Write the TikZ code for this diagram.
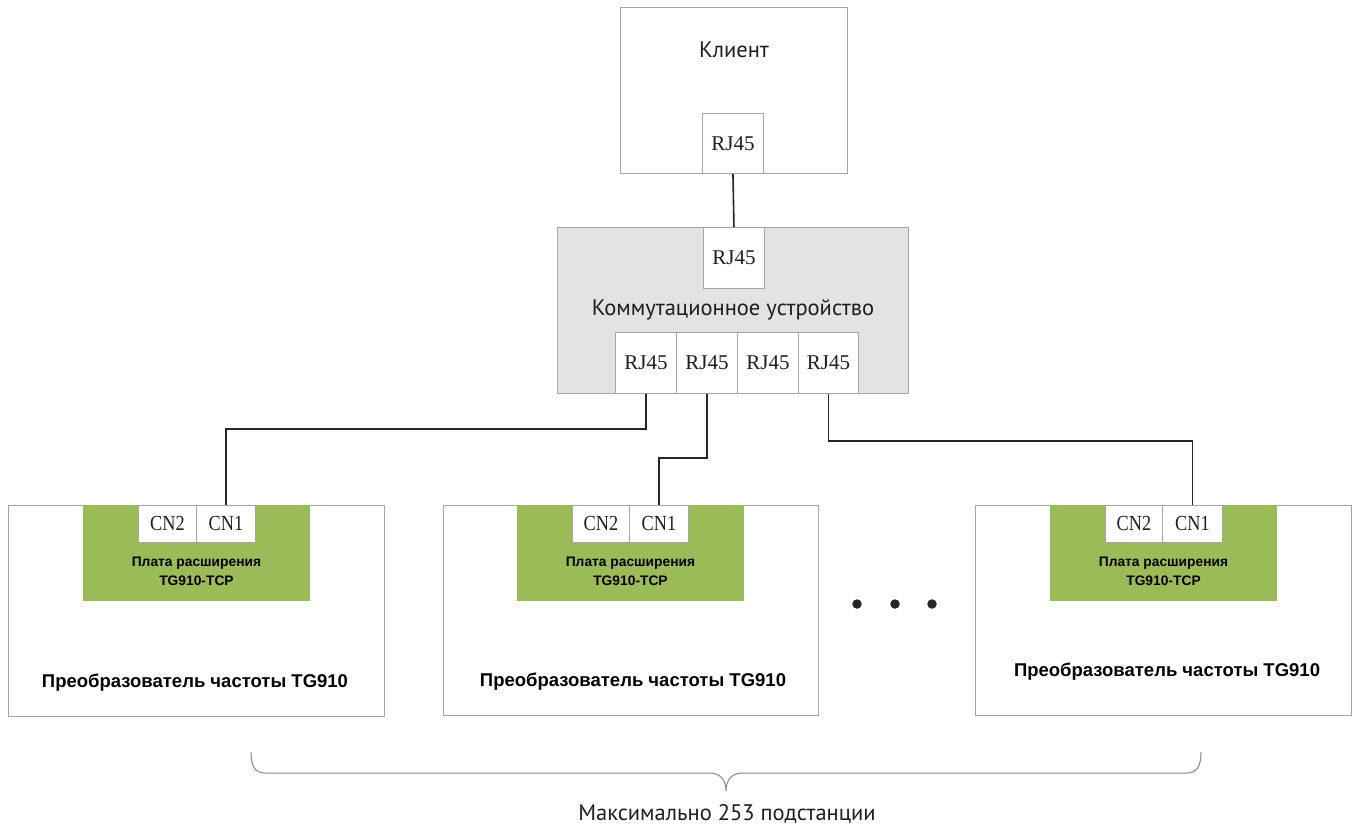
\documentclass[tikz,border=0pt]{standalone}
\usepackage{fontspec}
\setmainfont{PT Sans}
\newfontfamily\serifport{Liberation Serif}
\newfontfamily\boldsans{Liberation Sans}
\definecolor{boxline}{HTML}{A6A6A6}
\definecolor{swfill}{HTML}{E3E3E3}
\definecolor{board}{HTML}{9BBB59}
\definecolor{wire}{HTML}{262626}
\definecolor{txt}{HTML}{1E1E1E}
\tikzset{
  frame/.style={draw=boxline, line width=0.9pt, fill=white, anchor=north west, inner sep=0pt},
  port/.style={draw=boxline, line width=0.9pt, fill=white, anchor=north west, inner sep=0pt,
    font=\serifport\fontsize{21}{21}\selectfont, text=txt},
  cnport/.style={port, font=\serifport\fontsize{21.5}{21}\selectfont},
  boardbox/.style={fill=board, anchor=north west, inner sep=0pt},
  wirel/.style={draw=wire, line width=1.6pt},
  lbl/.style={font=\fontsize{22.5}{24}\selectfont, text=txt},
  invlbl/.style={font=\boldsans\bfseries\fontsize{18.5}{20}\selectfont, text=black},
  boardlbl/.style={font=\boldsans\bfseries\fontsize{13.8}{19}\selectfont, text=black, align=center},
  dotn/.style={circle, fill=wire, inner sep=0pt, minimum size=9.5pt},
}
\newcommand{\cnt}[1]{\scalebox{0.85}[1]{#1}}
\begin{document}
\begin{tikzpicture}[x=1pt,y=-1pt]
\useasboundingbox (0,0) rectangle (1354,827);
% client
\node[frame, minimum width=227pt, minimum height=166pt] (client) at (620,7) {};
\node[lbl] (clienttxt) at (734,50) {Клиент};
\node[port, minimum width=61pt, minimum height=60pt] (crj) at (702,113) {RJ45};
% switch
\node[frame, fill=swfill, minimum width=351pt, minimum height=166pt] (switch) at (557,227) {};
\node[port, minimum width=61pt, minimum height=61pt] (srj) at (703,227) {RJ45};
\node[lbl] (switchtxt) at (733,310) {Коммутационное устройство};
\node[port, minimum width=61pt, minimum height=61pt] (p1) at (615,332) {RJ45};
\node[port, minimum width=61pt, minimum height=61pt] (p2) at (676,332) {RJ45};
\node[port, minimum width=61pt, minimum height=61pt] (p3) at (737,332) {RJ45};
\node[port, minimum width=60pt, minimum height=61pt] (p4) at (798,332) {RJ45};
% inverters
\node[frame, minimum width=376pt, minimum height=211pt] (invA) at (8,505) {};
\node[boardbox, minimum width=227pt, minimum height=96pt] (bA) at (83,505) {};
\node[cnport, minimum width=58pt, minimum height=37pt] (cnA2) at (138,505) {\cnt{CN2}};
\node[cnport, minimum width=59pt, minimum height=37pt] (cnA1) at (196,505) {\cnt{CN1}};
\node[boardlbl] (bAt) at (196.5,571) {Плата расширения\\TG910-TCP};
\node[invlbl] (invAt) at (195,683) {Преобразователь частоты TG910};

\node[frame, minimum width=375pt, minimum height=210pt] (invB) at (443,505) {};
\node[boardbox, minimum width=227pt, minimum height=96pt] (bB) at (517,505) {};
\node[cnport, minimum width=57pt, minimum height=37pt] (cnB2) at (572,505) {\cnt{CN2}};
\node[cnport, minimum width=59pt, minimum height=37pt] (cnB1) at (629,505) {\cnt{CN1}};
\node[boardlbl] (bBt) at (630.5,571) {Плата расширения\\TG910-TCP};
\node[invlbl] (invBt) at (633,682) {Преобразователь частоты TG910};

\node[frame, minimum width=376pt, minimum height=210pt] (invC) at (975,505) {};
\node[boardbox, minimum width=227pt, minimum height=96pt] (bC) at (1050,505) {};
\node[cnport, minimum width=57pt, minimum height=37pt] (cnC2) at (1105,505) {\cnt{CN2}};
\node[cnport, minimum width=60pt, minimum height=37pt] (cnC1) at (1162,505) {\cnt{CN1}};
\node[boardlbl] (bCt) at (1163.5,571) {Плата расширения\\TG910-TCP};
\node[invlbl] (invCt) at (1167,672) {Преобразователь частоты TG910};
% dots
\node[dotn] (d1) at (857,604) {};
\node[dotn] (d2) at (895,604) {};
\node[dotn] (d3) at (932,604) {};
% wires
\coordinate (yA) at (0,429);
\coordinate (yB) at (0,458);
\coordinate (yC) at (0,441);
\draw[wirel] (crj.south) -- (srj.north);
\draw[wirel] (p1.south) -- (p1.south |- yA) -| (cnA1.north);
\draw[wirel] (p2.south) -- (p2.south |- yB) -| (cnB1.north);
\draw[wirel] (p4.south) -- (p4.south |- yC) -| (cnC1.north);
% brace
\draw[boxline!80!black, line width=1pt]
  (251,752) .. controls (251,766) and (255,773) .. (265,773)
  -- (710,773) .. controls (720,773) and (726,780) .. (726,791)
  .. controls (726,780) and (732,773) .. (742,773)
  -- (1187,773) .. controls (1197,773) and (1201,766) .. (1201,752);
\node[lbl] (maxtxt) at (727,814) {Максимально 253 подстанции};
\end{tikzpicture}
\end{document}
